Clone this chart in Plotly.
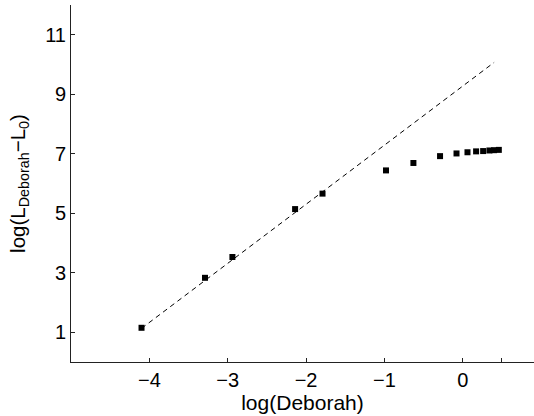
import plotly.graph_objects as go

# Data
log_deborah = [-4.10, -3.29, -2.94, -2.14, -1.79, -0.98, -0.63, -0.29, -0.08,
               0.06, 0.17, 0.26, 0.34, 0.40, 0.46]
log_dl = [1.15, 2.83, 3.53, 5.14, 5.66, 6.44, 6.69, 6.92, 7.01,
          7.05, 7.08, 7.09, 7.11, 7.12, 7.13]
fit_x = [-4.10, 0.40]
fit_y = [1.13, 10.07]

x_tickvals = [-4, -3, -2, -1, 0, 0.5]
x_ticktext = ["\u22124", "\u22123", "\u22122", "\u22121", "0", ""]
y_tickvals = [1, 3, 5, 7, 9, 11]

FONT = "Liberation Sans, Arial, sans-serif"
AX = "#222222"

fig = go.Figure()
fig.add_trace(go.Scatter(
    x=fit_x, y=fit_y, mode="lines",
    line=dict(color="black", width=1, dash="5px,4px"),
    showlegend=False, hoverinfo="skip"))
fig.add_trace(go.Scatter(
    x=log_deborah, y=log_dl, mode="markers",
    marker=dict(symbol="square", size=6, color="black", line=dict(width=0)),
    showlegend=False))

fig.update_layout(
    width=534, height=416,
    margin=dict(l=71, r=0, t=5, b=54),
    paper_bgcolor="white", plot_bgcolor="white",
    font=dict(family=FONT, size=20, color="black"),
    xaxis=dict(
        range=[-5, 0.909], tickvals=x_tickvals, ticktext=x_ticktext,
        automargin=False,
        showgrid=False, zeroline=False, showline=True, linecolor=AX, linewidth=1,
        ticks="inside", ticklen=4, tickcolor=AX, tickwidth=1,
        title=dict(text="log(Deborah)", standoff=0, font=dict(size=21)),
        tickfont=dict(size=20)),
    yaxis=dict(
        range=[0, 12], tickvals=y_tickvals,
        automargin=False,
        showgrid=False, zeroline=False, showline=True, linecolor=AX, linewidth=1,
        ticks="inside", ticklen=4, tickcolor=AX, tickwidth=1,
        title=dict(text="log(L<sub>Deborah</sub>\u2212L<sub>0</sub>)", standoff=14,
                   font=dict(size=20.5)),
        tickfont=dict(size=20)),
)

fig.write_html("out.html", config={"displayModeBar": False},
               post_script="document.body.style.margin='0';document.body.style.overflow='hidden';")
